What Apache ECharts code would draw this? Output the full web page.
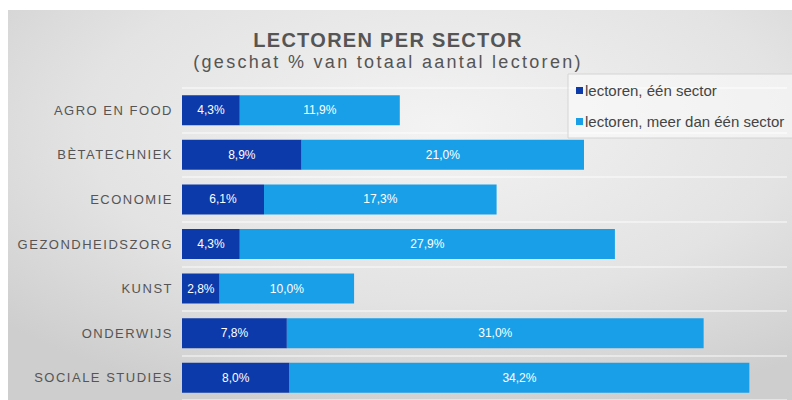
<!DOCTYPE html>
<html>
<head>
<meta charset="utf-8">
<script src="https://cdn.jsdelivr.net/npm/echarts@6/dist/echarts.min.js"></script>
<style>
html,body{margin:0;padding:0;background:#fff}
#sectorChart{width:792px;height:400px}
/* wider tracking like the original slide */
#sectorChart text[style*="20px"]{letter-spacing:1.3px}
#sectorChart text[style*="18px"]{letter-spacing:2.3px}
#sectorChart text[style*="13px"]{letter-spacing:1.5px}
</style>
</head>
<body>
<div id="sectorChart"></div>
<script>
// data
var sectoren = ['AGRO EN FOOD','BÈTATECHNIEK','ECONOMIE','GEZONDHEIDSZORG','KUNST','ONDERWIJS','SOCIALE STUDIES'];
var eenSector = [4.3, 8.9, 6.1, 4.3, 2.8, 7.8, 8.0];
var meerSectoren = [11.9, 21.0, 17.3, 27.9, 10.0, 31.0, 34.2];
var reeksNamen = ['lectoren, één sector', 'lectoren, meer dan één sector'];

var fontFam = 'Liberation Sans, Arial, sans-serif';

function pct(p){
    return p.value.toFixed(1).replace('.', ',') + '%';
}

var sectorChart = echarts.init(document.getElementById('sectorChart'), null, {renderer: 'svg'});
sectorChart.setOption({
    animation: false,
    graphic: [{
        type: 'rect',
        z: -100,
        silent: true,
        shape: {x: 8, y: 10, width: 784, height: 390},
        style: {
            fill: new echarts.graphic.RadialGradient(0.55, 0.3, 0.75, [
                {offset: 0, color: '#f3f3f3'},
                {offset: 0.6, color: '#e3e3e3'},
                {offset: 1, color: '#cecece'}
            ])
        }
    }],
    title: [{
        text: 'LECTOREN PER SECTOR',
        left: 383,
        top: 25,
        textAlign: 'center',
        textStyle: {color: '#555', fontSize: 20, fontWeight: 'bold', fontFamily: fontFam}
    }, {
        text: '(geschat % van totaal aantal lectoren)',
        left: 383,
        top: 48,
        textAlign: 'center',
        textStyle: {color: '#555', fontSize: 18, fontWeight: 'normal', fontFamily: fontFam}
    }],
    legend: {
        orient: 'vertical',
        left: 568,
        top: 74,
        icon: 'rect',
        itemWidth: 7,
        itemHeight: 7,
        itemGap: 16,
        padding: [9, 20, 9, 8],
        backgroundColor: 'rgba(255,255,255,0.5)',
        borderColor: '#d4d4d4',
        borderWidth: 1,
        textStyle: {color: '#444', fontSize: 15, fontFamily: fontFam, padding: [0, 0, 0, -3]},
        data: reeksNamen
    },
    grid: {
        left: 182,
        right: 5,
        top: 88,
        height: 314
    },
    xAxis: {
        type: 'value',
        min: 0,
        max: 45,
        show: false
    },
    yAxis: {
        type: 'category',
        inverse: true,
        data: sectoren,
        axisLine: {show: false},
        axisTick: {show: false},
        axisLabel: {
            margin: 9,
            color: '#555',
            fontSize: 13,
            fontFamily: fontFam
        },
        splitLine: {
            show: true,
            lineStyle: {color: 'rgba(255,255,255,0.45)', width: 2}
        }
    },
    series: [{
        name: reeksNamen[0],
        type: 'bar',
        stack: 'totaal',
        barWidth: 30,
        data: eenSector,
        itemStyle: {color: '#0c3aaa'},
        label: {show: true, position: 'inside', color: '#fff', fontSize: 12, fontFamily: fontFam, formatter: pct}
    }, {
        name: reeksNamen[1],
        type: 'bar',
        stack: 'totaal',
        barWidth: 30,
        data: meerSectoren,
        itemStyle: {color: '#199fe8'},
        label: {show: true, position: 'inside', color: '#fff', fontSize: 12, fontFamily: fontFam, formatter: pct}
    }]
});
</script>
</body>
</html>
